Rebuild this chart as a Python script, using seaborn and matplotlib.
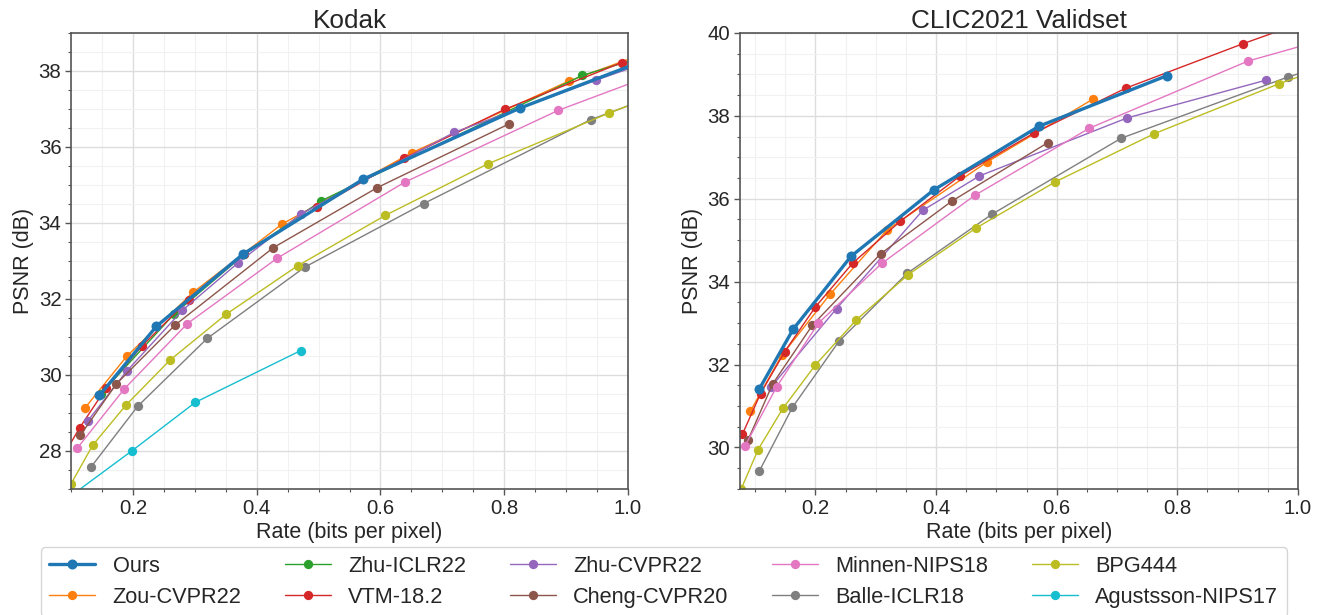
import matplotlib
matplotlib.use("Agg")
import matplotlib.pyplot as plt
from matplotlib.ticker import MultipleLocator, AutoMinorLocator
import seaborn as sns

# ---- Kodak (bpp / PSNR dB) ----
KODAK_OURS_BPP = [0.146, 0.238, 0.378, 0.572, 0.825, 1.10]
KODAK_OURS_PSNR = [29.46, 31.28, 33.18, 35.15, 37.02, 38.73]
KODAK_ZOU_BPP = [0.123, 0.190, 0.297, 0.441, 0.651, 0.904, 1.10]
KODAK_ZOU_PSNR = [29.14, 30.49, 32.17, 33.97, 35.85, 37.73, 38.90]
KODAK_ZHU_ICLR_BPP = [0.148, 0.267, 0.380, 0.504, 0.926, 1.10]
KODAK_ZHU_ICLR_PSNR = [29.50, 31.61, 33.17, 34.58, 37.88, 38.75]
KODAK_VTM_BPP = [0.085, 0.114, 0.157, 0.214, 0.290, 0.380, 0.498, 0.638, 0.801, 0.990]
KODAK_VTM_PSNR = [27.80, 28.61, 29.66, 30.75, 31.98, 33.18, 34.41, 35.70, 36.99, 38.22]
KODAK_ZHU_CVPR_BPP = [0.127, 0.190, 0.280, 0.370, 0.472, 0.719, 0.949, 1.10]
KODAK_ZHU_CVPR_PSNR = [28.79, 30.10, 31.70, 32.95, 34.24, 36.38, 37.76, 38.62]
KODAK_CHENG_BPP = [0.115, 0.173, 0.268, 0.427, 0.595, 0.807]
KODAK_CHENG_PSNR = [28.41, 29.76, 31.31, 33.35, 34.93, 36.60]
KODAK_MINNEN_BPP = [0.110, 0.186, 0.288, 0.433, 0.639, 0.887, 1.10]
KODAK_MINNEN_PSNR = [28.07, 29.63, 31.35, 33.07, 35.07, 36.96, 38.26]
KODAK_BALLE_BPP = [0.132, 0.208, 0.320, 0.478, 0.670, 0.940, 1.10]
KODAK_BALLE_PSNR = [27.57, 29.18, 30.96, 32.84, 34.51, 36.72, 37.68]
KODAK_BPG_BPP = [0.100, 0.135, 0.189, 0.260, 0.351, 0.466, 0.608, 0.773, 0.969, 1.10]
KODAK_BPG_PSNR = [27.13, 28.15, 29.21, 30.39, 31.60, 32.87, 34.20, 35.55, 36.89, 37.70]
KODAK_AGUS_BPP = [0.090, 0.199, 0.301, 0.471]
KODAK_AGUS_PSNR = [26.70, 28.01, 29.28, 30.64]

# ---- CLIC2021 validation ----
CLIC_OURS_BPP = [0.107, 0.163, 0.259, 0.396, 0.571, 0.783]
CLIC_OURS_PSNR = [31.41, 32.85, 34.61, 36.21, 37.75, 38.97]
CLIC_ZOU_BPP = [0.092, 0.144, 0.224, 0.319, 0.484, 0.661]
CLIC_ZOU_PSNR = [30.87, 32.22, 33.69, 35.25, 36.88, 38.41]
CLIC_VTM_BPP = [0.079, 0.109, 0.149, 0.200, 0.262, 0.341, 0.440, 0.562, 0.715, 0.909, 1.10]
CLIC_VTM_PSNR = [30.32, 31.30, 32.31, 33.39, 34.45, 35.46, 36.55, 37.58, 38.67, 39.74, 40.73]
CLIC_ZHU_CVPR_BPP = [0.126, 0.235, 0.378, 0.472, 0.717, 0.947]
CLIC_ZHU_CVPR_PSNR = [31.45, 33.35, 35.72, 36.55, 37.95, 38.86]
CLIC_CHENG_BPP = [0.088, 0.129, 0.195, 0.308, 0.426, 0.585]
CLIC_CHENG_PSNR = [30.17, 31.53, 32.95, 34.67, 35.94, 37.35]
CLIC_MINNEN_BPP = [0.083, 0.136, 0.205, 0.310, 0.464, 0.654, 0.917, 1.10]
CLIC_MINNEN_PSNR = [30.03, 31.47, 33.00, 34.44, 36.08, 37.70, 39.32, 40.07]
CLIC_BALLE_BPP = [0.107, 0.162, 0.239, 0.352, 0.492, 0.707, 0.984, 1.20]
CLIC_BALLE_PSNR = [29.43, 30.97, 32.56, 34.20, 35.62, 37.46, 38.94, 39.90]
CLIC_BPG_BPP = [0.077, 0.105, 0.146, 0.200, 0.268, 0.354, 0.466, 0.598, 0.762, 0.968, 1.10]
CLIC_BPG_PSNR = [29.00, 29.95, 30.94, 31.99, 33.08, 34.17, 35.29, 36.41, 37.57, 38.77, 39.45]

METHODS = ["Ours", "Zou-CVPR22", "Zhu-ICLR22", "VTM-18.2", "Zhu-CVPR22",
           "Cheng-CVPR20", "Minnen-NIPS18", "Balle-ICLR18", "BPG444", "Agustsson-NIPS17"]
COLORS = dict(zip(METHODS, ["tab:blue", "tab:orange", "tab:green", "tab:red", "tab:purple",
                            "tab:brown", "tab:pink", "tab:gray", "tab:olive", "tab:cyan"]))

kodak = {
    "Ours": (KODAK_OURS_BPP, KODAK_OURS_PSNR),
    "Zou-CVPR22": (KODAK_ZOU_BPP, KODAK_ZOU_PSNR),
    "Zhu-ICLR22": (KODAK_ZHU_ICLR_BPP, KODAK_ZHU_ICLR_PSNR),
    "VTM-18.2": (KODAK_VTM_BPP, KODAK_VTM_PSNR),
    "Zhu-CVPR22": (KODAK_ZHU_CVPR_BPP, KODAK_ZHU_CVPR_PSNR),
    "Cheng-CVPR20": (KODAK_CHENG_BPP, KODAK_CHENG_PSNR),
    "Minnen-NIPS18": (KODAK_MINNEN_BPP, KODAK_MINNEN_PSNR),
    "Balle-ICLR18": (KODAK_BALLE_BPP, KODAK_BALLE_PSNR),
    "BPG444": (KODAK_BPG_BPP, KODAK_BPG_PSNR),
    "Agustsson-NIPS17": (KODAK_AGUS_BPP, KODAK_AGUS_PSNR),
}
clic = {
    "Ours": (CLIC_OURS_BPP, CLIC_OURS_PSNR),
    "Zou-CVPR22": (CLIC_ZOU_BPP, CLIC_ZOU_PSNR),
    "VTM-18.2": (CLIC_VTM_BPP, CLIC_VTM_PSNR),
    "Zhu-CVPR22": (CLIC_ZHU_CVPR_BPP, CLIC_ZHU_CVPR_PSNR),
    "Cheng-CVPR20": (CLIC_CHENG_BPP, CLIC_CHENG_PSNR),
    "Minnen-NIPS18": (CLIC_MINNEN_BPP, CLIC_MINNEN_PSNR),
    "Balle-ICLR18": (CLIC_BALLE_BPP, CLIC_BALLE_PSNR),
    "BPG444": (CLIC_BPG_BPP, CLIC_BPG_PSNR),
}

sns.set_style("whitegrid")
plt.rcParams['font.family'] = ['Liberation Sans', 'DejaVu Sans']

fig = plt.figure(figsize=(13.25, 6.15), dpi=100)
ax1 = fig.add_axes([0.0536, 0.205, 0.4204, 0.7415])
ax2 = fig.add_axes([0.5585, 0.205, 0.4211, 0.7415])


def draw(ax, series, title, xlim, ylim):
    # baselines first, ours on top
    for name in METHODS[1:] + METHODS[:1]:
        if name not in series:
            continue
        bpp, psnr = series[name]
        ours = name == "Ours"
        sns.lineplot(x=bpp, y=psnr, ax=ax, sort=False, legend=False, label=name,
                     color=COLORS[name], marker="o", markersize=7.2 if ours else 6.7,
                     markeredgewidth=0, linewidth=2.4 if ours else 1.0,
                     zorder=3 if ours else 2)
    ax.set_xlim(*xlim)
    ax.set_ylim(*ylim)
    ax.xaxis.set_major_locator(MultipleLocator(0.2))
    ax.yaxis.set_major_locator(MultipleLocator(2))
    ax.xaxis.set_minor_locator(AutoMinorLocator(4))
    ax.yaxis.set_minor_locator(AutoMinorLocator(4))
    ax.grid(which="major", color="#dddddd", linewidth=1.0)
    ax.grid(which="minor", color="#f1f1f1", linewidth=0.8)
    ax.tick_params(which="major", direction="out", length=4, width=1, color="#555555",
                   labelsize=14.7, left=True, bottom=True, pad=3)
    ax.tick_params(which="minor", direction="out", length=2.5, width=0.8, color="#555555",
                   left=True, bottom=True)
    for sp in ax.spines.values():
        sp.set_color("#555555")
        sp.set_linewidth(1.2)
    ax.set_title(title, fontsize=18.8, pad=2)
    ax.set_xlabel("Rate (bits per pixel)", fontsize=15.5, labelpad=3)
    ax.set_ylabel("PSNR (dB)", fontsize=15.5, labelpad=3)


draw(ax1, kodak, "Kodak", (0.1, 1.0), (27, 39))
draw(ax2, clic, "CLIC2021 Validset", (0.075, 1.0), (29, 40))

handles, labels = ax1.get_legend_handles_labels()
order = [labels.index(m) for m in METHODS]
fig.legend([handles[i] for i in order], [labels[i] for i in order],
           loc="upper center", bbox_to_anchor=(0.501, 0.110), borderaxespad=0, ncol=5,
           fontsize=15.7, frameon=True, edgecolor="#cccccc", handlelength=2.1,
           handletextpad=0.8, columnspacing=2.0, borderpad=0.4, labelspacing=0.45)

fig.savefig("out.png", dpi=100)
